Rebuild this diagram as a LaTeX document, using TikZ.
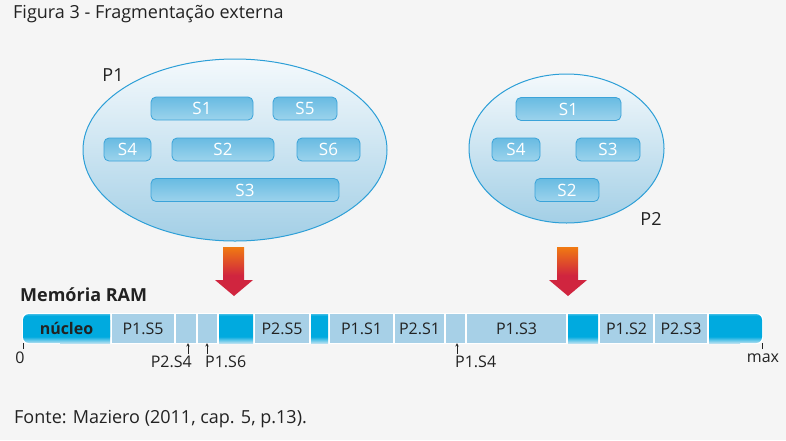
\documentclass[tikz,border=0pt]{standalone}
\usepackage{fontspec}
\setmainfont{Open Sans}
\usetikzlibrary{shapes.geometric}

\definecolor{bg}{HTML}{F5F5F5}
\definecolor{txt}{HTML}{222222}
\definecolor{procline}{HTML}{2D9FD7}
\definecolor{proctop}{HTML}{F4F9FC}
\definecolor{procbot}{HTML}{A3CFE6}
\definecolor{segline}{HTML}{3BA3D9}
\definecolor{segtop}{HTML}{68BBE2}
\definecolor{segbot}{HTML}{9CD3EC}
\definecolor{usedblue}{HTML}{A7D0E7}
\definecolor{freeblue}{HTML}{00AADF}
\definecolor{freelight}{HTML}{B4DFF1}
\definecolor{freetop}{HTML}{3DBCE6}
\definecolor{arrtop}{HTML}{F07A12}
\definecolor{arrbot}{HTML}{D0253F}

\pgfdeclareverticalshading{freeshade}{100bp}{color(0bp)=(freelight); color(25bp)=(freelight); color(36bp)=(freeblue); color(72bp)=(freeblue); color(75bp)=(freetop); color(100bp)=(freetop)}
\pgfdeclareverticalshading{arrshade}{100bp}{color(0bp)=(arrbot); color(25bp)=(arrbot); color(46bp)=(arrbot); color(75bp)=(arrtop); color(100bp)=(arrtop)}

\begin{document}
\begin{tikzpicture}[x=1pt,y=-1pt,>=stealth,text=txt]
\tikzstyle{proc}=[ellipse,draw=procline,line width=1pt,top color=proctop,bottom color=procbot,inner sep=0pt]
\tikzstyle{seg}=[rectangle,rounded corners=5pt,draw=segline,line width=0.8pt,top color=segtop,bottom color=segbot,text=white,inner sep=0pt,minimum height=23pt,font=\fontsize{17}{20}\selectfont]
\tikzstyle{used}=[rectangle,fill=usedblue,inner sep=0pt,minimum height=29pt,font=\fontsize{16}{19}\selectfont]
\tikzstyle{free}=[rectangle,shade,shading=freeshade,inner sep=0pt,minimum height=29pt]
\tikzstyle{lbl}=[inner sep=0pt,font=\fontsize{16}{19}\selectfont]
\tikzstyle{big}=[inner sep=0pt,font=\fontsize{18}{21}\selectfont]

% page
\fill[bg] (0,0) rectangle (786,440);
\useasboundingbox (0,0) rectangle (786,440);

\node[big,anchor=west] (title) at (13,14) {Figura 3 - Fragmentação externa};
\node[big,anchor=west] (fonte) at (14,419) {Fonte: Maziero (2011, cap. 5, p.13).};

% process P1
\node[proc,minimum width=304pt,minimum height=182pt] (p1) at (235,150) {};
\node[big] (p1name) at (113,75) {P1};
\node[seg,minimum width=102pt] (a1) at (202,108.5) {S1};
\node[seg,minimum width=64pt] (a5) at (305,108.5) {S5};
\node[seg,minimum width=47pt] (a4) at (127.5,149.5) {S4};
\node[seg,minimum width=102pt] (a2) at (223,149.5) {S2};
\node[seg,minimum width=63pt] (a6) at (328.5,149.5) {S6};
\node[seg,minimum width=188pt] (a3) at (245,190) {S3};

% process P2
\node[proc,minimum width=195pt,minimum height=149pt] (p2) at (566.5,148.5) {};
\node[big] (p2name) at (651,219) {P2};
\node[seg,minimum width=105pt] (b1) at (568.5,109) {S1};
\node[seg,minimum width=48pt] (b4) at (516,149.5) {S4};
\node[seg,minimum width=64pt] (b3) at (608,149.5) {S3};
\node[seg,minimum width=64pt] (b2) at (567,190) {S2};

% arrows down
\shade[shading=arrshade] (223,247) -- (244,247) -- (244,280) -- (253,280) -- (234,296) -- (215,280) -- (223,280) -- cycle;
\shade[shading=arrshade] (557,247) -- (578,247) -- (578,280) -- (587,280) -- (568,296) -- (549,280) -- (557,280) -- cycle;

% memory
\node[big,anchor=west,font=\bfseries\fontsize{18}{21}\selectfont] (ram) at (20,295) {Memória RAM};
\fill[white,rounded corners=6pt] (22,313) rectangle (763,344);
\shade[shading=freeshade,rounded corners=6pt] (23,314) rectangle (110,343);
\shade[shading=freeshade] (60,314) rectangle (110,343);
\shade[shading=freeshade,rounded corners=6pt] (709,314) rectangle (762,343);
\shade[shading=freeshade] (709,314) rectangle (740,343);
\node[lbl,font=\bfseries\fontsize{16}{19}\selectfont] (nucleo) at (66.5,328.5) {núcleo};

\node[used,minimum width=62pt] (m1) at (143,328.5) {P1.S5};
\node[used,minimum width=20pt] (m2) at (186,328.5) {};
\node[used,minimum width=19pt] (m3) at (207.5,328.5) {};
\node[free,minimum width=34pt] (f1) at (236,328.5) {};
\node[used,minimum width=54pt] (m4) at (282,328.5) {P2.S5};
\node[free,minimum width=17pt] (f2) at (319.5,328.5) {};
\node[used,minimum width=63pt] (m5) at (361.5,328.5) {P1.S1};
\node[used,minimum width=49pt] (m6) at (419.5,328.5) {P2.S1};
\node[used,minimum width=19pt] (m7) at (455.5,328.5) {};
\node[used,minimum width=99pt] (m8) at (516.5,328.5) {P1.S3};
\node[free,minimum width=30pt] (f3) at (583,328.5) {};
\node[used,minimum width=53pt] (m9) at (626.5,328.5) {P1.S2};
\node[used,minimum width=52pt] (m10) at (681,328.5) {P2.S3};

% ends of memory
\coordinate (zero) at (23,349);
\coordinate (top) at (762,349);
\draw[txt,line width=0.6pt] (zero) -- (zero |- m1.south);
\draw[txt,line width=0.6pt] (top) -- (top |- m1.south);
\node[lbl,anchor=north] (zlbl) at (20,352) {0};
\node[lbl,anchor=north] (mlbl) at (763,354) {max};

% small holes
\coordinate (h1) at (188,354);
\coordinate (h2) at (207,354);
\coordinate (h3) at (457,354);
\draw[->,txt,line width=0.5pt] (h1) -- (h1 |- m2.south);
\draw[->,txt,line width=0.5pt] (h2) -- (h2 |- m3.south);
\draw[->,txt,line width=0.5pt] (h3) -- (h3 |- m7.south);
\node[lbl,anchor=north east] (h1lbl) at (192,356) {P2.S4};
\node[lbl,anchor=north west] (h2lbl) at (205,356) {P1.S6};
\node[lbl,anchor=north west] (h3lbl) at (455,356) {P1.S4};
\end{tikzpicture}
\end{document}
